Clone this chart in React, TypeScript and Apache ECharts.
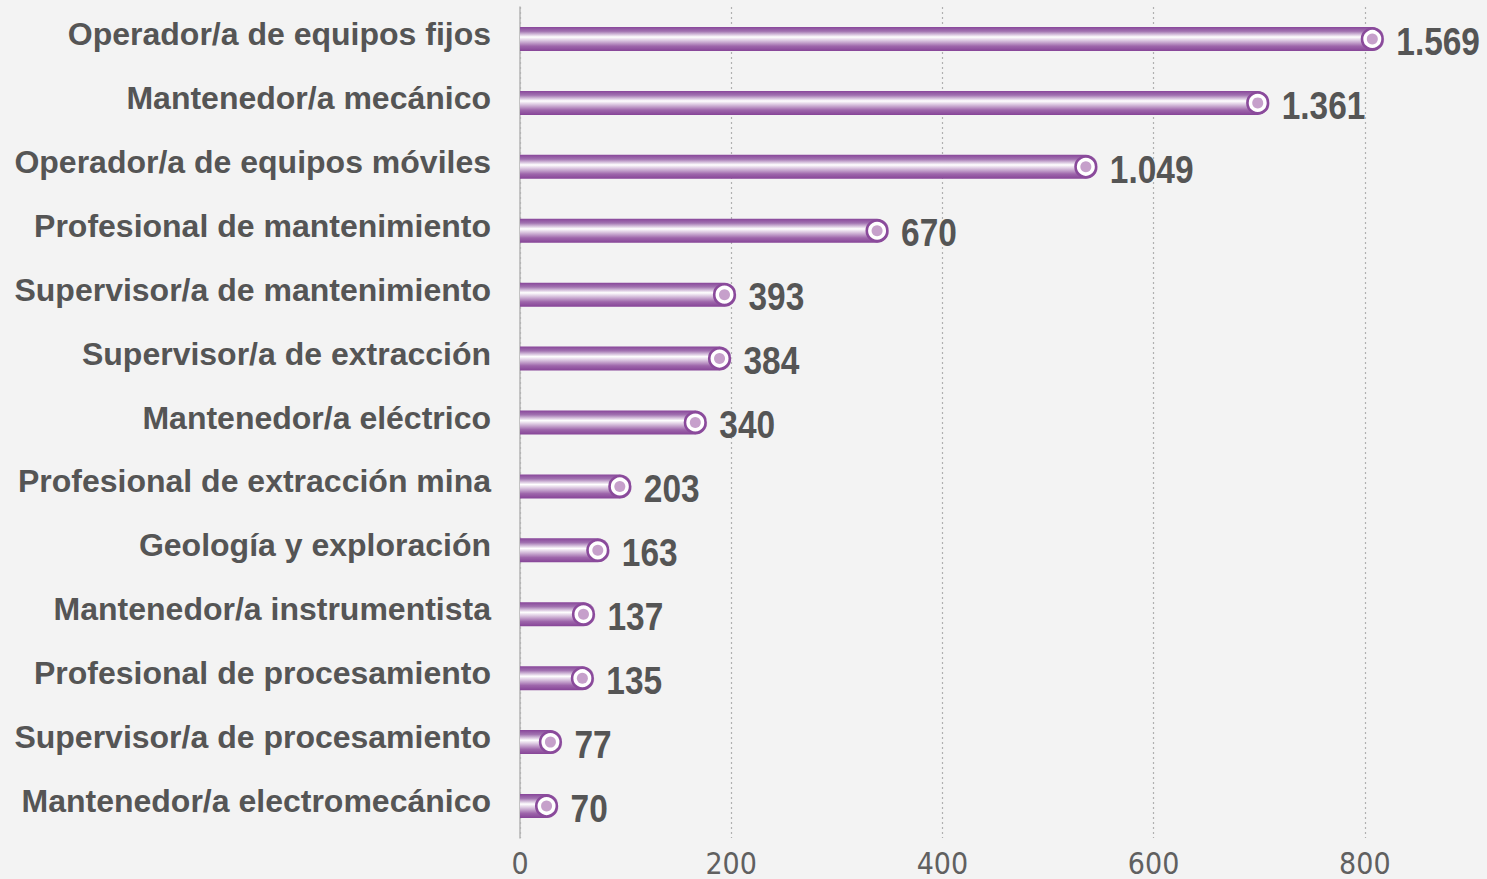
import React, { useEffect, useRef } from "react";
import * as echarts from "echarts";

const categories = [
  "Operador/a de equipos fijos",
  "Mantenedor/a mecánico",
  "Operador/a de equipos móviles",
  "Profesional de mantenimiento",
  "Supervisor/a de mantenimiento",
  "Supervisor/a de extracción",
  "Mantenedor/a eléctrico",
  "Profesional de extracción mina",
  "Geología y exploración",
  "Mantenedor/a instrumentista",
  "Profesional de procesamiento",
  "Supervisor/a de procesamiento",
  "Mantenedor/a electromecánico",
];
const values = [1569, 1361, 1049, 670, 393, 384, 340, 203, 163, 137, 135, 77, 70];
const tickLabels = ["0", "200", "400", "600", "800"];

const fmt = (v: number) => String(v).replace(/\B(?=(\d{3})+(?!\d))/g, ".");

export default function App() {
  const ref = useRef<HTMLDivElement>(null);
  useEffect(() => {
    document.body.style.margin = "0";
    const chart = echarts.init(ref.current!, undefined, { renderer: "svg" });
    const grad = new echarts.graphic.LinearGradient(0, 0, 0, 1, [
      { offset: 0, color: "#88469a" },
      { offset: 0.18, color: "#a172b0" },
      { offset: 0.42, color: "#ffffff" },
      { offset: 0.56, color: "#dcc8e1" },
      { offset: 0.8, color: "#9e66ab" },
      { offset: 1, color: "#864497" },
    ]);
    chart.setOption({
      animation: false,
      backgroundColor: "#f3f3f3",
      grid: { left: 520, top: 7, height: 831, width: 1056, outerBoundsMode: "none", containLabel: false },
      xAxis: [
        {
          type: "value",
          min: 0,
          max: 1000,
          interval: 200,
          axisLine: { show: false },
          axisTick: { show: false },
          splitLine: { show: true, lineStyle: { type: [2, 3], color: "#b0b0b0", width: 1.2 } },
          axisLabel: {
            margin: 12,
            fontFamily: "'DejaVu Sans Condensed', 'Liberation Sans Narrow', Roboto",
            fontSize: 30,
            lineHeight: 26,
            color: "#606060",
            formatter: (v: number) => tickLabels[Math.round(v / 200)] ?? "",
          },
        },
        { type: "value", min: 0, max: 1917, show: false },
      ],
      yAxis: {
        type: "category",
        data: categories,
        inverse: true,
        axisLine: { show: true, lineStyle: { color: "#b5b5b5", width: 1.5 } },
        axisTick: { show: false },
        splitLine: { show: false },
        axisLabel: {
          margin: 29,
          fontFamily: "Liberation Sans",
          fontWeight: "bold",
          fontSize: 32,
          color: "#555555",
          verticalAlign: "bottom",
          lineHeight: 10,
        },
      },
      series: [
        {
          type: "custom",
          xAxisIndex: 1,
          clip: false,
          data: values.map((v, i) => [v, i]),
          encode: { x: 0, y: 1 },
          renderItem: (params: any, api: any) => {
            const v = api.value(0);
            const idx = api.value(1);
            const end = api.coord([v, idx]);
            const start = api.coord([0, idx]);
            const h = 24;
            return {
              type: "group",
              children: [
                {
                  type: "rect",
                  shape: { x: start[0], y: end[1] - h / 2, width: end[0] - start[0], height: h, r: [0, h / 2, h / 2, 0] },
                  style: { fill: grad },
                },
                {
                  type: "circle",
                  shape: { cx: end[0] - 12, cy: end[1], r: 10.3 },
                  style: { fill: "#ffffff", stroke: "#8a4a9b", lineWidth: 2.6 },
                },
                {
                  type: "circle",
                  shape: { cx: end[0] - 12, cy: end[1], r: 5.5 },
                  style: { fill: "#c6a0cb" },
                },
                {
                  type: "text",
                  x: end[0] + 12,
                  y: end[1] + 3,
                  scaleX: 0.88,
                  style: {
                    text: fmt(v),
                    fontFamily: "Liberation Sans",
                    fontWeight: "bold",
                    fontSize: 38,
                    fill: "#555555",
                    verticalAlign: "middle",
                    align: "left",
                  },
                },
              ],
            };
          },
        },
      ],
    });
    return () => chart.dispose();
  }, []);
  return <div ref={ref} style={{ width: 1487, height: 879 }} />;
}
